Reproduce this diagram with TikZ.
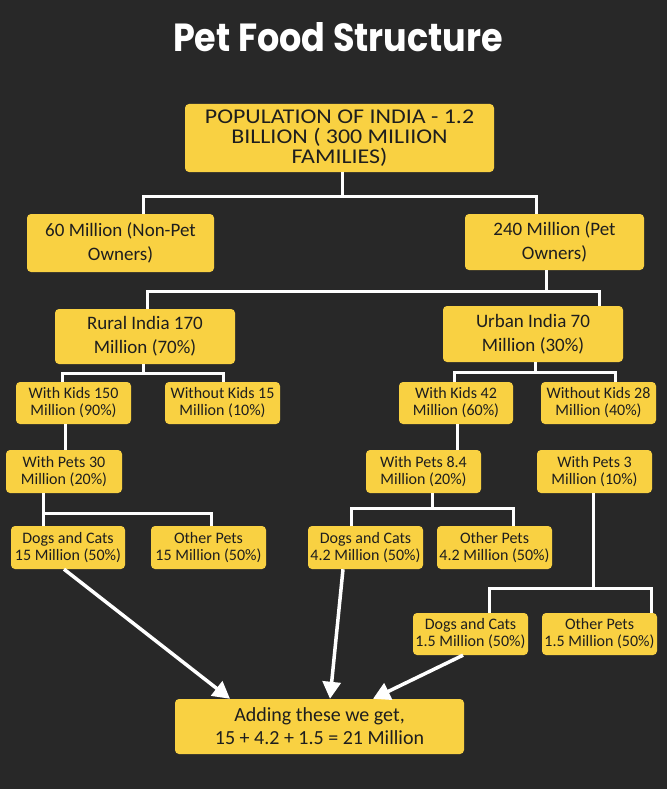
\documentclass[tikz,border=0pt]{standalone}
\usepackage{fontspec}
\setmainfont{Carlito}
\newfontfamily\widefont{Carlito}[FakeStretch=1.14]
\newfontfamily\titlefont{Poppins}
\usetikzlibrary{arrows.meta}
\definecolor{bgc}{HTML}{282828}
\definecolor{boxc}{HTML}{F9D142}
\definecolor{txtc}{HTML}{1E1E1E}
\begin{document}
\begin{tikzpicture}[x=1pt,y=-1pt,
  box/.style={draw=none, fill=boxc, rounded corners=4pt, text=txtc, align=center, inner sep=0pt},
  bigbox/.style={box, font=\widefont\fontsize{21}{20}\selectfont},
  midbox/.style={box, font=\fontsize{19}{24}\selectfont},
  smallbox/.style={box, font=\fontsize{16}{17}\selectfont, minimum width=115pt, minimum height=42pt},
  conn/.style={draw=white, line width=3pt},
  arr/.style={draw=white, line width=3.5pt, -{Triangle[length=17pt,width=18pt]}}
]
\fill[bgc] (0,0) rectangle (667,789);
\useasboundingbox (0,0) rectangle (667,789);

\node[text=white, font=\titlefont\bfseries\fontsize{35}{40}\selectfont] (title) at (338,37) {\scalebox{1}[1.12]{Pet Food Structure}};

\node[bigbox, minimum width=309pt, minimum height=68pt] (top) at (339.5,138) {POPULATION OF INDIA - 1.2\\BILLION ( 300 MILIION\\FAMILIES)};
\node[midbox, minimum width=187pt, minimum height=58pt] (nonpet) at (120.5,243) {60 Million (Non-Pet\\Owners)};
\node[midbox, minimum width=179pt, minimum height=56pt] (pet) at (554.5,242) {240 Million (Pet\\Owners)};
\node[midbox, minimum width=180pt, minimum height=55pt] (rural) at (145,336.5) {Rural India 170\\Million (70\%)};
\node[midbox, minimum width=180pt, minimum height=56pt] (urban) at (533,334) {Urban India 70\\Million (30\%)};

\node[smallbox] (wk150) at (73.5,403) {With Kids 150\\Million (90\%)};
\node[smallbox] (wok15) at (222.5,403) {Without Kids 15\\Million (10\%)};
\node[smallbox, minimum width=114pt] (wk42) at (456,403) {With Kids 42\\Million (60\%)};
\node[smallbox] (wok28) at (598.5,403) {Without Kids 28\\Million (40\%)};

\node[smallbox, minimum width=116pt, minimum height=43pt] (wp30) at (64,471.5) {With Pets 30\\Million (20\%)};
\node[smallbox, minimum height=43pt] (wp84) at (423.5,471.5) {With Pets 8.4\\Million (20\%)};
\node[smallbox, minimum height=43pt] (wp3) at (594.5,471.5) {With Pets 3\\Million (10\%)};

\node[smallbox, minimum width=114pt, minimum height=43pt] (dc15) at (68,547.5) {Dogs and Cats\\15 Million (50\%)};
\node[smallbox, minimum height=43pt] (op15) at (208.5,547.5) {Other Pets\\15 Million (50\%)};
\node[smallbox, minimum height=43pt] (dc42) at (365.5,547.5) {Dogs and Cats\\4.2 Million (50\%)};
\node[smallbox, minimum height=43pt] (op42) at (494.5,547.5) {Other Pets\\4.2 Million (50\%)};

\node[smallbox] (dc15b) at (470.5,634) {Dogs and Cats\\1.5 Million (50\%)};
\node[smallbox] (op15b) at (599.5,634) {Other Pets\\1.5 Million (50\%)};

\node[box, font=\fontsize{20}{23}\selectfont, minimum width=289pt, minimum height=55pt] (final) at (319.5,726.5) {Adding these we get,\\15 + 4.2 + 1.5 = 21 Million};

% elbow connectors
\draw[conn] ([xshift=2.5pt]top.south) -- ++(0,24) -| ([xshift=22.5pt]nonpet.north);
\draw[conn] ([xshift=2.5pt]top.south) ++(0,24) -| ([xshift=-18.5pt]pet.north);

\draw[conn] ([xshift=-8.5pt]pet.south) -- ++(0,21) -| ([xshift=2pt]rural.north);
\draw[conn] ([xshift=-8.5pt]pet.south) ++(0,21) -| ([xshift=66pt]urban.north);

\draw[conn] ([xshift=-2pt]rural.south) -- ++(0,9) -| ([xshift=-11.5pt]wk150.north);
\draw[conn] ([xshift=-2pt]rural.south) ++(0,9) -| ([xshift=0.5pt]wok15.north);

\draw[conn] ([xshift=2pt]urban.south) -- ++(0,10) -| ([xshift=-2pt]wk42.north);
\draw[conn] ([xshift=2pt]urban.south) ++(0,10) -| ([xshift=16.5pt]wok28.north);

\draw[conn] ([xshift=-8.5pt]wk150.south) -- ([xshift=1pt]wp30.north);
\draw[conn] ([xshift=1pt]wk42.south) -- ([xshift=33.5pt]wp84.north);

\draw[conn] ([xshift=-21pt]wp30.south) -- ++(0,20) -| ([xshift=-25pt]dc15.north);
\draw[conn] ([xshift=-21pt]wp30.south) ++(0,20) -| ([xshift=2.5pt]op15.north);

\draw[conn] ([xshift=8.5pt]wp84.south) -- ++(0,15) -| ([xshift=-14.5pt]dc42.north);
\draw[conn] ([xshift=8.5pt]wp84.south) ++(0,15) -| ([xshift=18.5pt]op42.north);

\draw[conn] ([xshift=-1.5pt]wp3.south) -- ++(0,95) -| ([xshift=18.5pt]dc15b.north);
\draw[conn] ([xshift=-1.5pt]wp3.south) ++(0,95) -| ([xshift=51.5pt]op15b.north);

% arrows to the sum
\draw[arr] ([xshift=-4pt]dc15.south) -- ([xshift=-89.5pt]final.north);
\draw[arr] ([xshift=-22.5pt]dc42.south) -- ([xshift=10.5pt]final.north);
\draw[arr] ([xshift=-7.5pt]dc15b.south) -- ([xshift=53.5pt]final.north);
\end{tikzpicture}
\end{document}
